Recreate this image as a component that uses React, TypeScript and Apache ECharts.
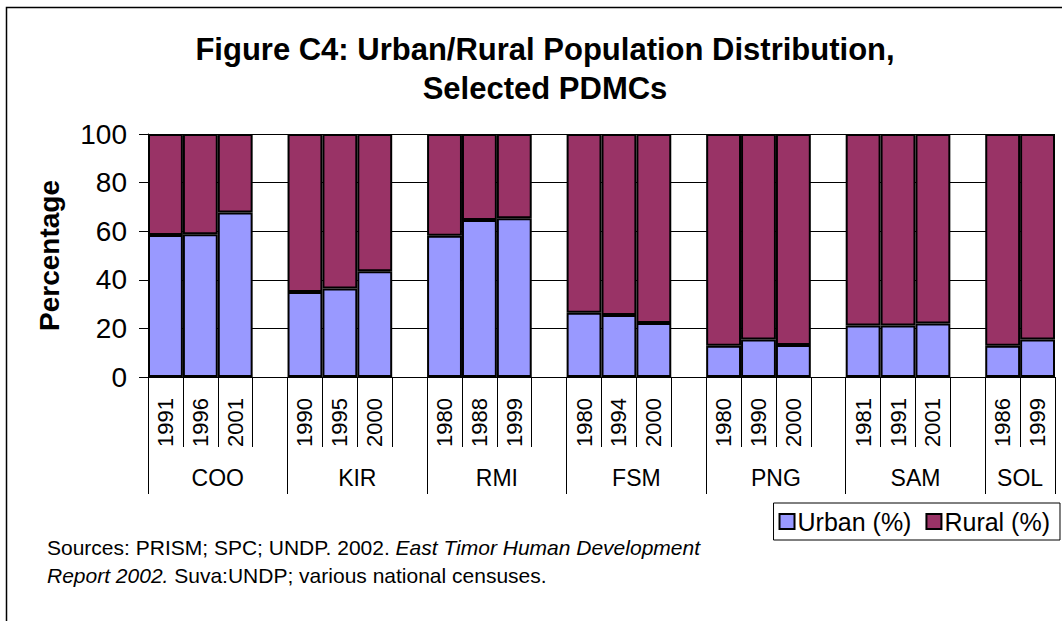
import React, { useEffect, useRef } from "react";
import * as echarts from "echarts";

const countries = ["COO", "KIR", "RMI", "FSM", "PNG", "SAM", "SOL"];
const years = [
  ["1991", "1996", "2001"],
  ["1990", "1995", "2000"],
  ["1980", "1988", "1999"],
  ["1980", "1994", "2000"],
  ["1980", "1990", "2000"],
  ["1981", "1991", "2001"],
  ["1986", "1999"],
];
const urban = [
  [58.4, 58.7, 67.7],
  [35.0, 36.4, 43.5],
  [58.1, 64.6, 65.3],
  [26.4, 25.5, 22.2],
  [12.9, 15.4, 13.2],
  [21.2, 21.2, 22.0],
  [12.9, 15.4],
];
const rural = [
  [41.6, 41.3, 32.3],
  [65.0, 63.6, 56.5],
  [41.9, 35.4, 34.7],
  [73.6, 74.5, 77.8],
  [87.1, 84.6, 86.8],
  [78.8, 78.8, 78.0],
  [87.1, 84.6],
];
const yTicks = [0, 20, 40, 60, 80, 100];

const FONT = "'Liberation Sans', Arial, Helvetica, sans-serif";

export default function App() {
  const ref = useRef<HTMLDivElement>(null);

  useEffect(() => {
    document.body.style.margin = "0";
    if (!ref.current) return;
    const chart = echarts.init(ref.current, undefined, { renderer: "svg" });

    const cats: string[] = [];
    const urbanData: (number | null)[] = [];
    const ruralData: (number | null)[] = [];
    const boundaries: number[] = [0];
    const centers: number[] = [];
    const centerNames: Record<string, string> = {};
    countries.forEach((c, gi) => {
      const start = cats.length;
      years[gi].forEach((y, i) => {
        cats.push(y);
        urbanData.push(urban[gi][i]);
        ruralData.push(rural[gi][i]);
      });
      if (gi < countries.length - 1) {
        cats.push("");
        urbanData.push(null);
        ruralData.push(null);
      }
      const end = cats.length;
      boundaries.push(end);
      const mid = (start + end) / 2;
      centers.push(mid);
      centerNames[String(mid)] = c;
    });
    const total = cats.length;

    chart.setOption({
      animation: false,
      textStyle: { fontFamily: FONT },
      title: {
        text: "Figure C4: Urban/Rural Population Distribution,\nSelected PDMCs",
        left: 540,
        top: 25,
        textAlign: "center",
        textStyle: {
          fontFamily: FONT,
          fontSize: 31,
          fontWeight: "bold",
          color: "#000",
          lineHeight: 39,
        },
      },
      legend: {
        data: ["Urban (%)", "Rural (%)"],
        right: 2,
        top: 503,
        orient: "horizontal",
        icon: "rect",
        itemWidth: 15,
        itemHeight: 15,
        itemGap: 14,
        padding: [6, 10, 6, 5],
        borderColor: "#000",
        borderWidth: 1,
        backgroundColor: "#fff",
        textStyle: { fontFamily: FONT, fontSize: 25, color: "#000", padding: [0, 0, 0, -2] },
      },
      grid: { left: 148, right: 7, top: 134, bottom: 244, containLabel: false },
      xAxis: [
        {
          type: "category",
          data: cats,
          boundaryGap: true,
          axisLine: { show: true, lineStyle: { color: "#000", width: 1 } },
          axisTick: {
            show: true,
            interval: 0,
            length: 70,
            alignWithLabel: false,
            lineStyle: { color: "#000", width: 1 },
          },
          axisLabel: {
            interval: 0,
            rotate: 90,
            margin: 21,
            fontSize: 22,
            color: "#000",
            fontFamily: FONT,
          },
          splitLine: { show: false },
        },
        {
          type: "value",
          min: 0,
          max: total,
          position: "bottom",
          offset: 0,
          axisLine: { show: false },
          splitLine: { show: false },
          axisTick: {
            show: true,
            customValues: boundaries,
            length: 117,
            lineStyle: { color: "#000", width: 1 },
          },
          axisLabel: {
            show: true,
            customValues: centers,
            margin: 89,
            fontSize: 23,
            color: "#000",
            fontFamily: FONT,
            formatter: (v: number) => centerNames[String(v)] ?? "",
          },
        },
      ],
      yAxis: {
        type: "value",
        min: 0,
        max: 100,
        interval: 20,
        name: "Percentage",
        nameLocation: "middle",
        nameRotate: 90,
        nameGap: 85,
        nameTextStyle: { fontFamily: FONT, fontSize: 28, fontWeight: "bold", color: "#000" },
        axisLine: { show: true, lineStyle: { color: "#000", width: 1 } },
        axisTick: { show: true, length: 9, lineStyle: { color: "#000", width: 1 } },
        axisLabel: {
          margin: 21,
          fontSize: 28,
          color: "#000",
          fontFamily: FONT,
          formatter: (v: number) => (yTicks.includes(v) ? String(v) : ""),
        },
        splitLine: { show: true, lineStyle: { color: "#000", width: 1 } },
      },
      series: [
        {
          name: "Urban (%)",
          type: "bar",
          stack: "total",
          data: urbanData,
          barCategoryGap: "0%",
          itemStyle: { color: "#9999FF", borderColor: "#000", borderWidth: 2 },
        },
        {
          name: "Rural (%)",
          type: "bar",
          stack: "total",
          data: ruralData,
          barCategoryGap: "0%",
          itemStyle: { color: "#993366", borderColor: "#000", borderWidth: 2 },
        },
      ],
      graphic: [
        {
          type: "rect",
          shape: { x: 6.5, y: 7.5, width: 1200, height: 800 },
          style: { fill: "none", stroke: "#000", lineWidth: 1.5 },
          silent: true,
        },
        {
          type: "text",
          left: 47,
          top: 537,
          style: {
            text:
              "{n|Sources: PRISM; SPC; UNDP. 2002. }{i|East Timor Human Development}\n{i|Report 2002.}{n| Suva:UNDP; various national censuses.}",
            rich: {
              n: { fontFamily: FONT, fontSize: 21, lineHeight: 28, fill: "#000" },
              i: { fontFamily: FONT, fontSize: 21, lineHeight: 28, fontStyle: "italic", fill: "#000" },
            },
          },
        },
      ],
    });

    return () => chart.dispose();
  }, []);

  return <div ref={ref} style={{ width: 1062, height: 621 }} />;
}
